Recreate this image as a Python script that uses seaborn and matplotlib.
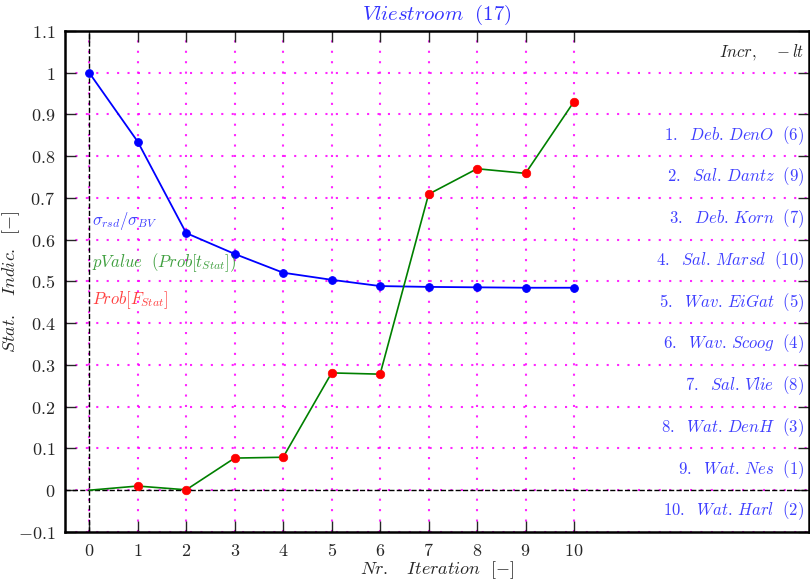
import numpy as np
import matplotlib
matplotlib.use("Agg")
import matplotlib.pyplot as plt
from matplotlib.ticker import FuncFormatter
import seaborn as sns

# data
iterations = [0, 1, 2, 3, 4, 5, 6, 7, 8, 9, 10]
sigma_ratio = [1.0, 0.835, 0.616, 0.566, 0.521, 0.504, 0.489, 0.487, 0.486, 0.485, 0.485]
p_value = [0.0, 0.010, 0.001, 0.077, 0.079, 0.281, 0.278, 0.709, 0.770, 0.759, 0.931]
prob_f = [np.nan, 0.010, 0.001, 0.077, 0.079, 0.281, 0.278, 0.709, 0.770, 0.759, 0.931]

station_labels = ["Deb.\\,DenO", "Sal.\\,Dantz", "Deb.\\,Korn", "Sal.\\,Marsd", "Wav.\\,EiGat",
                  "Wav.\\,Scoog", "Sal.\\,Vlie", "Wat.\\,DenH", "Wat.\\,Nes", "Wat.\\,Harl"]
station_ids = [6, 9, 7, 10, 5, 4, 8, 3, 1, 2]
label_y = [0.85, 0.75, 0.65, 0.55, 0.45, 0.35, 0.25, 0.15, 0.05, -0.05]

sns.set_style("ticks")
plt.rcParams["mathtext.fontset"] = "cm"

fig = plt.figure(figsize=(8.1, 5.8), dpi=100)
ax = fig.add_axes([0.0802, 0.0828, 0.9188, 0.8638])

ax.set_xlim(-0.5, 14.85)
ax.set_ylim(-0.1, 1.1)
ax.set_xticks(iterations)
ax.set_yticks(np.round(np.arange(-0.1, 1.11, 0.1), 1))
ax.xaxis.set_major_formatter(FuncFormatter(lambda v, p: f"${v:g}$"))
ax.yaxis.set_major_formatter(FuncFormatter(lambda v, p: f"${v:g}$"))
ax.tick_params(direction="in", top=True, right=True, length=8, width=1, labelsize=13)
ax.tick_params(axis="x", pad=7)
ax.tick_params(axis="y", pad=7)
ax.grid(True, color="magenta", linestyle=(0, (1, 4)), linewidth=1.5, alpha=0.85)
for s in ax.spines.values():
    s.set_linewidth(1.8)
    s.set_color("black")

ax.axvline(0, color="black", linestyle="--", linewidth=1, zorder=1)
ax.axhline(0, color="black", linestyle="--", linewidth=1, zorder=1)

sns.lineplot(x=iterations, y=sigma_ratio, ax=ax, color="blue", marker="o",
             markersize=5.5, markeredgecolor="blue", linewidth=1.3, zorder=3)
sns.lineplot(x=iterations, y=p_value, ax=ax, color="green", linewidth=1.2, zorder=3)
sns.scatterplot(x=iterations, y=prob_f, ax=ax, color="red", s=38, edgecolor="red",
                zorder=4)

ax.text(0.06, 0.645, r"$\sigma_{rsd}/\sigma_{BV}$", color="blue", fontsize=12,
        va="center", alpha=0.75)
ax.text(0.06, 0.545, r"$pValue\ \ (Prob[t_{Stat}])$", color="green", fontsize=12,
        va="center", alpha=0.75)
ax.text(0.06, 0.455, r"$Prob[F_{Stat}]$", color="red", fontsize=12, va="center",
        alpha=0.75)

ax.text(14.75, 1.05, r"$Incr,\ \ \ -lt$", color="black", fontsize=12,
        ha="right", va="center", alpha=0.85)
for i, (name, sid, yy) in enumerate(zip(station_labels, station_ids, label_y)):
    ax.text(14.75, yy, rf"${i + 1}.\ \ {name}\ \ ({sid})$", color="blue",
            fontsize=12, ha="right", va="center", alpha=0.75)

ax.set_title(r"$Vliestroom\ \ (17)$", color="blue", fontsize=15, pad=8, alpha=0.8)
ax.set_xlabel(r"$Nr.\ \ \ Iteration\ \ [-]$", fontsize=13, labelpad=0)
ax.set_ylabel(r"$Stat.\ \ \ Indic.\ \ [-]$", fontsize=13)
ax.yaxis.set_label_coords(-0.058, 0.5)

fig.savefig("out.png", dpi=100)
